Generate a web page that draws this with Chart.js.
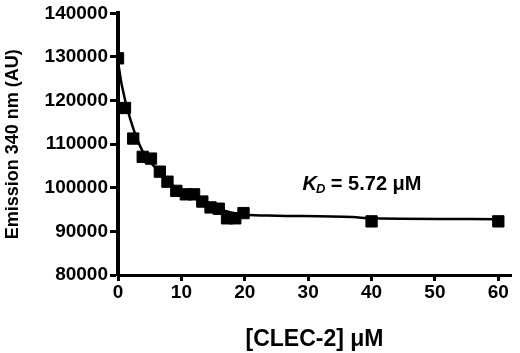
<!DOCTYPE html>
<html>
<head>
<meta charset="utf-8">
<script src="https://cdn.jsdelivr.net/npm/chart.js@4"></script>
<style>
html,body{margin:0;padding:0;background:#fff;}
#wrap{width:520px;height:353px;position:relative;}
</style>
</head>
<body>
<div id="wrap"><canvas id="c" width="520" height="353"></canvas></div>
<script>
// measured points: [CLEC-2] (µM) and emission (AU)
const concX = [0, 1.1, 2.4, 3.9, 5.2, 6.6, 7.8, 9.2, 10.7, 12.0, 13.3, 14.6, 15.9, 17.2, 18.5, 19.8, 40, 60];
const emissionY = [129700, 118300, 111300, 107100, 106700, 103700, 101400, 99300, 98500, 98500, 96850, 95500, 95200, 93000, 93000, 94200, 92300, 92300];
// fitted curve
const fitX = [0, 0.6, 1.9, 3.9, 6, 8, 10, 12, 14, 16, 18, 20, 25, 37, 40, 60];
const fitY = [129000, 123500, 115900, 108300, 104450, 101300, 99300, 97700, 96300, 95100, 94300, 93800, 93600, 93300, 93000, 92800];
const xTicks = [0, 10, 20, 30, 40, 50, 60];
const yTicks = [80000, 90000, 100000, 110000, 120000, 130000, 140000];
const kdLabel = {k: 'K', sub: 'D', rest: ' = 5.72 \u03bcM', x: 29.1, y: 100500};

const annot = {
  id: 'annot',
  afterDatasetsDraw(chart) {
    const ctx = chart.ctx;
    const px = chart.scales.x.getPixelForValue(kdLabel.x);
    const py = chart.scales.y.getPixelForValue(kdLabel.y);
    ctx.save();
    ctx.fillStyle = '#000';
    ctx.textBaseline = 'alphabetic';
    ctx.textAlign = 'left';
    ctx.font = 'italic bold 20px "Liberation Sans", Arial, sans-serif';
    ctx.fillText(kdLabel.k, px, py + 4);
    let w = ctx.measureText(kdLabel.k).width;
    ctx.font = 'italic bold 13px "Liberation Sans", Arial, sans-serif';
    ctx.fillText(kdLabel.sub, px + w - 1, py + 7);
    w += ctx.measureText(kdLabel.sub).width - 1;
    ctx.font = 'bold 20px "Liberation Sans", Arial, sans-serif';
    ctx.fillText(kdLabel.rest, px + w, py + 4);
    ctx.restore();
  }
};

new Chart(document.getElementById('c'), {
  type: 'scatter',
  data: {
    datasets: [
      {
        data: fitX.map((x, i) => ({x, y: fitY[i]})),
        showLine: true,
        borderColor: '#000',
        borderWidth: 2.5,
        pointRadius: 0,
        cubicInterpolationMode: 'monotone',
        fill: false
      },
      {
        data: concX.map((x, i) => ({x, y: emissionY[i]})),
        showLine: false,
        pointStyle: 'rect',
        pointRadius: 8,
        backgroundColor: '#000',
        borderColor: '#000',
        borderWidth: 1
      }
    ]
  },
  options: {
    responsive: false,
    animation: false,
    events: [],
    layout: {padding: {top: 11, right: 5, left: 0, bottom: 0}},
    plugins: {legend: {display: false}, tooltip: {enabled: false}},
    scales: {
      x: {
        type: 'linear',
        min: 0, max: 62,
        afterBuildTicks(s) { s.ticks = xTicks.map(v => ({value: v})); },
        afterFit(s) { s.height = 78; },
        grid: {drawOnChartArea: false, drawTicks: true, tickLength: 6, tickWidth: 3, tickColor: '#000'},
        border: {display: true, color: '#000', width: 3},
        ticks: {color: '#000', padding: 0, maxRotation: 0,
          font: {family: '"Liberation Sans", Arial, sans-serif', size: 19, weight: 'bold'}},
        title: {display: true, text: '[CLEC-2] \u03bcM', color: '#000', padding: {top: 12, bottom: 0},
          font: {family: '"Liberation Sans", Arial, sans-serif', size: 23, weight: 'bold'}}
      },
      y: {
        type: 'linear',
        min: 80000, max: 140000,
        afterBuildTicks(s) { s.ticks = yTicks.map(v => ({value: v})); },
        afterFit(s) { s.width = 118; },
        grid: {drawOnChartArea: false, drawTicks: true, tickLength: 8, tickWidth: 3, tickColor: '#000'},
        border: {display: true, color: '#000', width: 4},
        ticks: {color: '#000', padding: 2, callback: v => String(v),
          font: {family: '"Liberation Sans", Arial, sans-serif', size: 19, weight: 'bold'}},
        title: {display: true, text: 'Emission 340 nm (AU)', color: '#000', padding: {top: 2, bottom: 0},
          font: {family: '"Liberation Sans", Arial, sans-serif', size: 18, weight: 'bold'}}
      }
    }
  },
  plugins: [annot]
});
</script>
</body>
</html>
